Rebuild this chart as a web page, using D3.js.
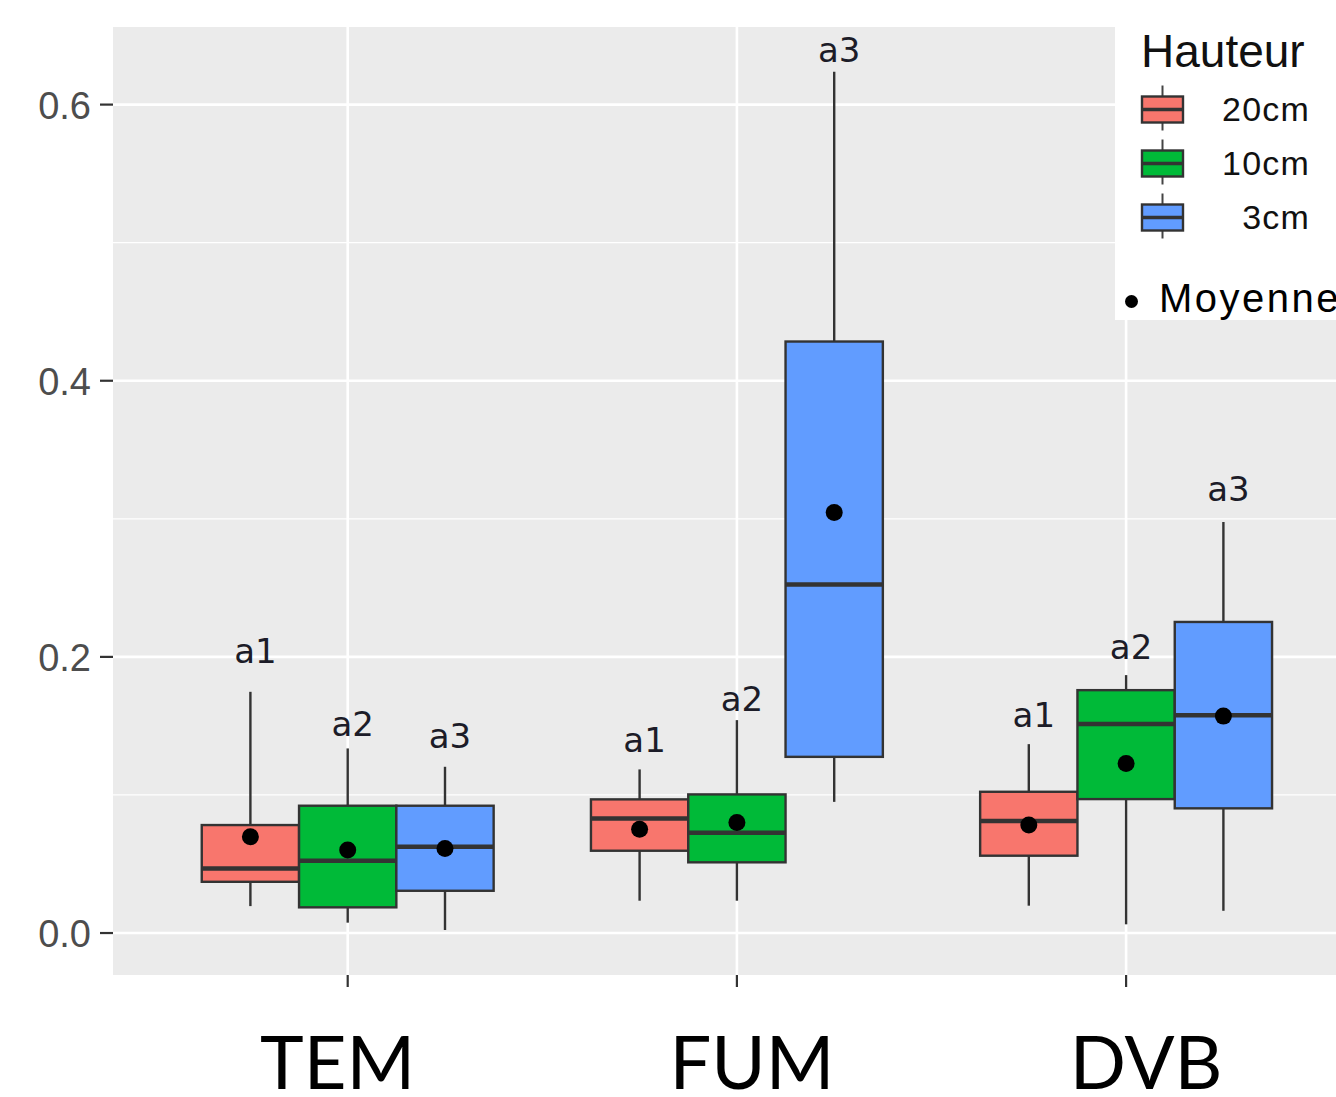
<!DOCTYPE html>
<html>
<head>
<meta charset="utf-8">
<script src="https://cdn.jsdelivr.net/npm/d3@7"></script>
<style>
  body { margin: 0; background: #fff; }
  svg { display: block; }
</style>
</head>
<body>
<div id="chart"></div>
<script>
// ---- data ----
const categories = ['TEM', 'FUM', 'DVB'];
const groups = ['20cm', '10cm', '3cm'];
const colors = ['#F8766D', '#00BA38', '#619CFF'];

// one row per category, one value per group (20cm, 10cm, 3cm)
const whiskerLow  = [[0.0195, 0.0075, 0.0022], [0.0234, 0.0234, 0.0950], [0.0198, 0.0063, 0.0161]];
const q1          = [[0.0371, 0.0186, 0.0306], [0.0596, 0.0512, 0.1276], [0.0560, 0.0970, 0.0903]];
const medians     = [[0.0468, 0.0523, 0.0625], [0.0830, 0.0726, 0.2524], [0.0811, 0.1513, 0.1578]];
const q3          = [[0.0782, 0.0922, 0.0922], [0.0968, 0.1004, 0.4284], [0.1023, 0.1759, 0.2253]];
const whiskerHigh = [[0.1747, 0.1337, 0.1204], [0.1185, 0.1542, 0.6238], [0.1368, 0.1868, 0.2977]];
const means       = [[0.0697, 0.0601, 0.0613], [0.0751, 0.0801, 0.3045], [0.0782, 0.1228, 0.1571]];

const letters  = [['a1', 'a2', 'a3'], ['a1', 'a2', 'a3'], ['a1', 'a2', 'a3']];
const letterAt = [[0.1958, 0.1427, 0.1342], [0.1309, 0.1610, 0.6311], [0.1494, 0.1985, 0.3131]];

const yTicks = [0, 0.2, 0.4, 0.6];
const yMinor = [0.1, 0.3, 0.5];
const yTickLabels = ['0.0', '0.2', '0.4', '0.6'];

// ---- layout ----
const W = 1336, H = 1097;
const panel = { left: 113, top: 27, bottom: 975 };
const catLabelShift = [-10, 15, 20];

const svg = d3.select('#chart').append('svg')
    .attr('width', W)
    .attr('height', H);

const y = d3.scaleLinear()
    .domain([-0.0304, 0.6562])
    .range([panel.bottom, panel.top]);

// discrete axis with ggplot's 0.6 expansion on each side
const x = d3.scalePoint()
    .domain(categories)
    .range([347.7, 1126.1]);
const step = x.step();
const dodge = d3.scaleBand()
    .domain(groups)
    .range([-0.375 * step, 0.375 * step]);
const bw = dodge.bandwidth();

// panel background + grid
svg.append('rect')
    .attr('x', panel.left)
    .attr('y', panel.top)
    .attr('width', W - panel.left + 40)
    .attr('height', panel.bottom - panel.top)
    .attr('fill', '#EBEBEB');

const grid = svg.append('g');
grid.selectAll('.minor').data(yMinor).enter().append('line')
    .attr('x1', panel.left).attr('x2', W)
    .attr('y1', d => y(d)).attr('y2', d => y(d))
    .attr('stroke', '#fff').attr('stroke-width', 1.3);
grid.selectAll('.major').data(yTicks).enter().append('line')
    .attr('x1', panel.left).attr('x2', W)
    .attr('y1', d => y(d)).attr('y2', d => y(d))
    .attr('stroke', '#fff').attr('stroke-width', 2.6);
grid.selectAll('.vmajor').data(categories).enter().append('line')
    .attr('x1', d => x(d)).attr('x2', d => x(d))
    .attr('y1', panel.top).attr('y2', panel.bottom)
    .attr('stroke', '#fff').attr('stroke-width', 2.6);

// y axis ticks and labels
const yAxis = svg.append('g');
yAxis.selectAll('line').data(yTicks).enter().append('line')
    .attr('x1', 100).attr('x2', panel.left)
    .attr('y1', d => y(d)).attr('y2', d => y(d))
    .attr('stroke', '#333').attr('stroke-width', 2.2);
yAxis.selectAll('text').data(yTicks).enter().append('text')
    .attr('x', 91)
    .attr('y', d => y(d) + 14)
    .attr('text-anchor', 'end')
    .attr('font-family', 'Liberation Sans, Arial, sans-serif')
    .attr('font-size', 38)
    .attr('fill', '#4D4D4D')
    .text((d, i) => yTickLabels[i]);

// x axis ticks
svg.append('g').selectAll('line').data(categories).enter().append('line')
    .attr('x1', d => x(d)).attr('x2', d => x(d))
    .attr('y1', panel.bottom).attr('y2', panel.bottom + 12)
    .attr('stroke', '#333').attr('stroke-width', 2.2);

// flatten to one record per box
const boxes = [];
categories.forEach((c, ci) => {
    groups.forEach((g, gi) => {
        boxes.push({
            cat: c, grp: g, color: colors[gi],
            lo: whiskerLow[ci][gi], q1: q1[ci][gi], med: medians[ci][gi],
            q3: q3[ci][gi], hi: whiskerHigh[ci][gi], mean: means[ci][gi],
            letter: letters[ci][gi], letterY: letterAt[ci][gi]
        });
    });
});

const cx = d => x(d.cat) + dodge(d.grp) + bw / 2;

const bx = svg.append('g').selectAll('g').data(boxes).enter().append('g');

bx.append('line')
    .attr('x1', cx).attr('x2', cx)
    .attr('y1', d => y(d.hi)).attr('y2', d => y(d.q3))
    .attr('stroke', '#333').attr('stroke-width', 2.4);
bx.append('line')
    .attr('x1', cx).attr('x2', cx)
    .attr('y1', d => y(d.q1)).attr('y2', d => y(d.lo))
    .attr('stroke', '#333').attr('stroke-width', 2.4);
bx.append('rect')
    .attr('x', d => x(d.cat) + dodge(d.grp))
    .attr('y', d => y(d.q3))
    .attr('width', bw)
    .attr('height', d => y(d.q1) - y(d.q3))
    .attr('fill', d => d.color)
    .attr('stroke', '#333').attr('stroke-width', 2.4);
bx.append('line')
    .attr('x1', d => x(d.cat) + dodge(d.grp)).attr('x2', d => x(d.cat) + dodge(d.grp) + bw)
    .attr('y1', d => y(d.med)).attr('y2', d => y(d.med))
    .attr('stroke', '#333').attr('stroke-width', 4.5);
bx.append('circle')
    .attr('cx', cx)
    .attr('cy', d => y(d.mean))
    .attr('r', 8.5)
    .attr('fill', '#000');
bx.append('text')
    .attr('x', d => cx(d) + 5)
    .attr('y', d => y(d.letterY))
    .attr('text-anchor', 'middle')
    .attr('font-family', 'DejaVu Sans, sans-serif')
    .attr('font-size', 34)
    .attr('fill', '#1c1c28')
    .text(d => d.letter);

// category labels under the axis
svg.append('g').selectAll('text').data(categories).enter().append('text')
    .attr('x', (d, i) => x(d) + catLabelShift[i])
    .attr('y', 1089)
    .attr('text-anchor', 'middle')
    .attr('font-family', 'Lato, Open Sans, sans-serif')
    .attr('font-size', 74)
    .attr('fill', '#000')
    .text(d => d);

// legend
const lg = svg.append('g');
lg.append('rect')
    .attr('x', 1115).attr('y', panel.top)
    .attr('width', W - 1115).attr('height', 320 - panel.top)
    .attr('fill', '#fff');
lg.append('text')
    .attr('x', 1141).attr('y', 67)
    .attr('font-family', 'Liberation Sans, Arial, sans-serif')
    .attr('font-size', 46)
    .attr('fill', '#111')
    .text('Hauteur');

const keyY = d3.scalePoint().domain(groups).range([109.5, 217.5]);
const keys = lg.selectAll('.key').data(groups).enter().append('g')
    .attr('transform', d => `translate(1142,${keyY(d)})`);
keys.append('line')
    .attr('x1', 20.5).attr('x2', 20.5).attr('y1', -24).attr('y2', 21)
    .attr('stroke', '#444').attr('stroke-width', 2);
keys.append('rect')
    .attr('x', 0).attr('y', -13).attr('width', 41).attr('height', 26)
    .attr('fill', (d, i) => colors[i])
    .attr('stroke', '#333').attr('stroke-width', 2.4);
keys.append('line')
    .attr('x1', 0).attr('x2', 41).attr('y1', 0).attr('y2', 0)
    .attr('stroke', '#333').attr('stroke-width', 3.5);
keys.append('text')
    .attr('x', 168).attr('y', 11)
    .attr('text-anchor', 'end')
    .attr('font-family', 'Liberation Sans, Arial, sans-serif')
    .attr('font-size', 34)
    .attr('letter-spacing', 1.2)
    .attr('fill', '#111')
    .text(d => d);

lg.append('circle')
    .attr('cx', 1131.5).attr('cy', 301.5).attr('r', 6.5)
    .attr('fill', '#000');
lg.append('text')
    .attr('x', 1159).attr('y', 312)
    .attr('font-family', 'Liberation Sans, Arial, sans-serif')
    .attr('font-size', 40)
    .attr('letter-spacing', 2.5)
    .attr('fill', '#000')
    .text('Moyenne');
</script>
</body>
</html>
